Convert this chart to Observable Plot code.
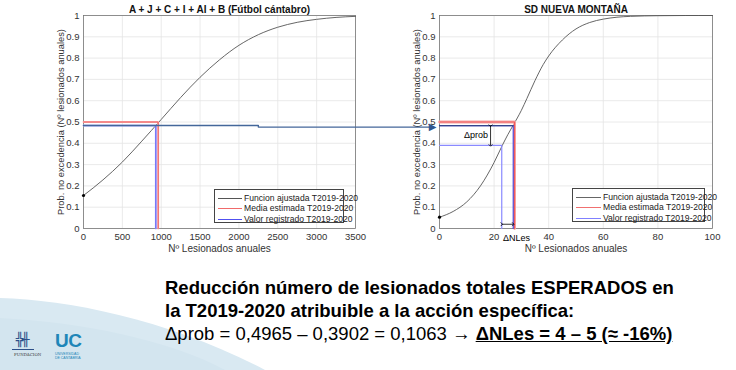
<!DOCTYPE html>
<html>
<head>
<meta charset="utf-8">
<script src="https://cdn.jsdelivr.net/npm/d3@7"></script>
<script src="https://cdn.jsdelivr.net/npm/@observablehq/plot@0.6"></script>
<style>
  html, body { margin: 0; padding: 0; background: #fff; }
  #root { position: relative; width: 736px; height: 370px; overflow: hidden; font-family: "Liberation Sans", Arial, sans-serif; }
  .panel { position: absolute; top: 0; }
  .legend { position: absolute; background: #fff; border: 0.8px solid #444; box-sizing: border-box; font-size: 8.6px; color: #222; }
  .legend .row { position: absolute; left: 0; height: 10px; line-height: 10px; white-space: nowrap; }
  .legend .sw { position: absolute; top: 5px; height: 0; }
  .legend .tx { position: absolute; top: 0; }
  #caption { position: absolute; left: 165px; top: 276px; font-size: 18.5px; line-height: 23px; color: #000; white-space: nowrap; }
  #caption b { font-weight: bold; }
</style>
</head>
<body>
<div id="root">
  <svg id="deco" width="736" height="370" style="position:absolute;left:0;top:0">
    <path d="M0,298 C70,300 170,320 265,370 L0,370 Z" fill="#d9e9f2"></path>
    <path d="M0,318 C80,322 170,340 225,370 L0,370 Z" fill="#d3e5ef"></path>
  </svg>
  <div id="logos" style="position:absolute;left:12px;top:330px;width:80px;height:35px">
    <div style="position:absolute;left:4px;top:2px;font:bold 13px 'DejaVu Serif';color:#2c4f88;letter-spacing:-2px">╬╫</div>
    <div style="position:absolute;left:0;top:19px;width:22px;border-top:1px solid #2c4f88"></div>
    <div style="position:absolute;left:2px;top:22px;font:4px 'DejaVu Serif';color:#333">FUNDACION</div>
    <div style="position:absolute;left:43px;top:0px;font:bold 19px 'Liberation Sans';color:#1f86b8;letter-spacing:-0.5px">UC</div>
    <div style="position:absolute;left:43px;top:22px;font:3.5px 'Liberation Sans';color:#1f86b8;line-height:4px">UNIVERSIDAD<br>DE CANTABRIA</div>
  </div>
  <div id="left" class="panel" style="left:0;z-index:3"></div>
  <div id="right" class="panel" style="left:370px;z-index:2"></div>
  <div id="legL" class="legend" style="left:214px;top:189px;width:130px;height:34px;z-index:4"></div>
  <div id="legR" class="legend" style="left:572px;top:188px;width:133px;height:34px;z-index:4"></div>
  <div id="caption">
    <div><b>Reducción número de lesionados totales ESPERADOS en</b></div>
    <div><b>la T2019-2020 atribuible a la acción específica:</b></div>
    <div>Δprob = 0,4965 – 0,3902 = 0,1063 → <b style="text-decoration:underline">ΔNLes = 4 – 5 (≈ -16%)</b></div>
  </div>
</div>
<script>
// ---------------- data ----------------
const leftTitle = "A + J + C + I + AI + B (Fútbol cántabro)";
const rightTitle = "SD NUEVA MONTAÑA";
const yLabel = "Prob. no excedencia (Nº lesionados anuales)";
const xLabel = "Nº Lesionados anuales";
const legendLabels = ["Funcion ajustada T2019-2020", "Media estimada T2019-2020", "Valor registrado T2019-2020"];

const yTicks = [0, 0.1, 0.2, 0.3, 0.4, 0.5, 0.6, 0.7, 0.8, 0.9, 1];
const leftXTicks = [0, 500, 1000, 1500, 2000, 2500, 3000, 3500];
const rightXTicks = [0, 20, 40, 60, 80, 100];

// fitted curve, left panel
const leftCurveX = [0, 250, 500, 750, 1000, 1250, 1500, 1750, 2000, 2250, 2500, 2750, 3000, 3250, 3500];
const leftCurveY = [0.155, 0.228, 0.312, 0.41, 0.512, 0.615, 0.71, 0.792, 0.86, 0.91, 0.945, 0.968, 0.982, 0.991, 0.996];
// fitted curve, right panel
const rightCurveX = [0, 5, 10, 15, 20, 23, 25, 27, 30, 32, 35, 38, 40, 45, 50, 55, 60, 65, 70, 80, 90, 100];
const rightCurveY = [0.053, 0.08, 0.125, 0.2, 0.31, 0.39, 0.44, 0.485, 0.555, 0.61, 0.695, 0.77, 0.81, 0.885, 0.937, 0.967, 0.983, 0.992, 0.996, 0.999, 1, 1];

// estimated mean / registered values
const leftMean = {x: 961, p: 0.5};
const leftObs = {x: 931, p: 0.483};
const rightMean = {x: 27.5, p: 0.5};
const rightObs = {x: 27.0, p: 0.483};
const rightNew = {x: 22.8, p: 0.39};

// annotation arrow from left panel to right panel (left-panel units)
const linkArrowX = [0, 2250, 2250, 4480];
const linkArrowY = [0.4835, 0.4835, 0.476, 0.476];
// delta annotations (right-panel units)
const dProb = {x: 18.7, p1: 0.483, p2: 0.39, labelX: 13.4, labelY: 0.437, label: "Δprob"};
const dNLes = {y: 0.02, x1: 22.8, x2: 27.0, labelX: 28.2, labelY: -0.043, label: "ΔNLes"};

// ---------------- helpers ----------------
const zip = (xs, ys) => xs.map((x, i) => ({x, y: ys[i]}));
const elbow = (v) => [{x: 0, y: v.p}, {x: v.x, y: v.p}, {x: v.x, y: 0}];
const fmtY = d3.format("~g");
const FONT = "Liberation Sans, Arial, sans-serif";
const GRID = "#e4e4e4";

function baseMarks(xTicks, title) {
  return [
    Plot.ruleX(xTicks, {stroke: GRID, strokeWidth: 0.8}),
    Plot.ruleY(yTicks, {stroke: GRID, strokeWidth: 0.8}),
    Plot.text([title], {frameAnchor: "top", lineAnchor: "middle", dy: -6, fontWeight: "bold", fontSize: 10, fill: "#111"}),
    Plot.text([xLabel], {frameAnchor: "bottom", lineAnchor: "middle", dy: 20, fontSize: 10, fill: "#333"}),
    Plot.text([yLabel], {frameAnchor: "left", textAnchor: "middle", lineAnchor: "middle", dx: -22, rotate: -90, fontSize: 9.3, fill: "#333"})
  ];
}

function axes(domain, xTicks, fmtX) {
  return {
    x: {domain, ticks: xTicks, tickFormat: fmtX, tickSize: 0, tickPadding: 5, label: null},
    y: {domain: [0, 1], ticks: yTicks, tickFormat: fmtY, tickSize: 0, tickPadding: 4, label: null}
  };
}

// ---------------- left panel ----------------
const leftPlot = Plot.plot({
  width: 370, height: 260,
  marginLeft: 83, marginRight: 15, marginTop: 15, marginBottom: 32,
  style: {background: "transparent", overflow: "visible", fontFamily: FONT, fontSize: "9.5px", color: "#333"},
  ...axes([0, 3500], leftXTicks, d3.format("d")),
  marks: [
    ...baseMarks(leftXTicks, leftTitle),
    Plot.frame({stroke: "#777", strokeWidth: 0.8}),
    Plot.line(zip(leftCurveX, leftCurveY), {x: "x", y: "y", stroke: "#555", strokeWidth: 0.9, curve: "monotone-x"}),
    Plot.line(elbow(leftMean), {x: "x", y: "y", stroke: "#f8c0c0", strokeWidth: 2}),
    Plot.line(elbow(leftMean), {x: "x", y: "y", stroke: "#f04848", strokeWidth: 0.9}),
    Plot.line(elbow(leftObs), {x: "x", y: "y", stroke: "#c0c0ff", strokeWidth: 2}),
    Plot.line(elbow(leftObs), {x: "x", y: "y", stroke: "#4848f0", strokeWidth: 0.9}),
    Plot.dot([{x: leftCurveX[0], y: leftCurveY[0]}], {x: "x", y: "y", r: 1.6, fill: "#000"}),
    Plot.line(zip(linkArrowX, linkArrowY), {x: "x", y: "y", stroke: "#44679a", strokeWidth: 1.4}),
    Plot.text([{x: linkArrowX[linkArrowX.length - 1], y: linkArrowY[linkArrowY.length - 1]}], {x: "x", y: "y", text: () => "▶", fill: "#2f5690", fontSize: 10, textAnchor: "start", dx: -3, fontFamily: "DejaVu Sans"})
  ]
});
document.getElementById("left").appendChild(leftPlot);

// ---------------- right panel ----------------
const rightPlot = Plot.plot({
  width: 366, height: 260,
  marginLeft: 69, marginRight: 24, marginTop: 15, marginBottom: 32,
  style: {background: "transparent", overflow: "visible", fontFamily: FONT, fontSize: "9.5px", color: "#333"},
  ...axes([0, 100], rightXTicks, d3.format("d")),
  marks: [
    ...baseMarks(rightXTicks, rightTitle),
    Plot.frame({stroke: "#777", strokeWidth: 0.8}),
    Plot.line(zip(rightCurveX, rightCurveY), {x: "x", y: "y", stroke: "#555", strokeWidth: 0.9, curve: "monotone-x"}),
    Plot.line(elbow(rightMean), {x: "x", y: "y", stroke: "#f6a8a8", strokeWidth: 2.8}),
    Plot.line(elbow(rightMean), {x: "x", y: "y", stroke: "#f05a5a", strokeWidth: 1.1}),
    Plot.line(elbow(rightNew), {x: "x", y: "y", stroke: "#8a8aff", strokeWidth: 1.2}),
    Plot.line(elbow(rightObs), {x: "x", y: "y", stroke: "#4040d8", strokeWidth: 1.1}),
    Plot.line([{x: 0, y: rightObs.p}, {x: rightObs.x, y: rightObs.p}], {x: "x", y: "y", stroke: "#34448c", strokeWidth: 1.2}),
    Plot.dot([{x: rightCurveX[0], y: rightCurveY[0]}], {x: "x", y: "y", r: 1.6, fill: "#000"}),
    Plot.link([dProb], {x1: "x", x2: "x", y1: "p1", y2: "p2", stroke: "#000", strokeWidth: 0.8, markerStart: "arrow", markerEnd: "arrow"}),
    Plot.text([dProb], {x: "labelX", y: "labelY", text: "label", fontSize: 9, fill: "#000"}),
    Plot.link([dNLes], {x1: "x1", x2: "x2", y1: "y", y2: "y", stroke: "#000", strokeWidth: 0.8, markerStart: "arrow", markerEnd: "arrow"}),
    Plot.text([dNLes], {x: "labelX", y: "labelY", text: "label", fontSize: 9, fill: "#000"})
  ]
});
document.getElementById("right").appendChild(rightPlot);

// ---------------- legends ----------------
function legend(id, colors, widths, swL, swW, txL) {
  const el = document.getElementById(id);
  legendLabels.forEach((lab, i) => {
    const row = document.createElement("div");
    row.className = "row";
    row.style.top = (2.5 + i * 10.5) + "px";
    row.style.width = "100%";
    row.innerHTML = `<div class="sw" style="left:${swL}px;width:${swW}px;border-top:${widths[i]}px solid ${colors[i]}"></div><div class="tx" style="left:${txL}px">${lab}</div>`;
    el.appendChild(row);
  });
}
legend("legL", ["#555", "#f06a6a", "#5050f0"], [1, 1.2, 1.6], 3, 24, 29);
legend("legR", ["#666", "#f07070", "#8080ff"], [1.4, 1.6, 1.2], 3, 25, 30);
</script>
</body>
</html>
